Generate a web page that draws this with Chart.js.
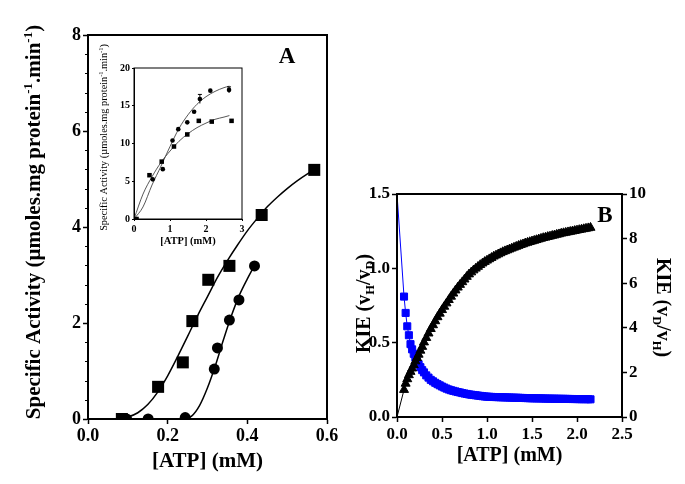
<!DOCTYPE html>
<html>
<head>
<meta charset="utf-8">
<script src="https://cdn.jsdelivr.net/npm/chart.js@4.4.0/dist/chart.umd.min.js"></script>
<style>
html, body { margin: 0; padding: 0; background: #fff; }
#wrap { position: relative; width: 685px; height: 484px; }
#chartA { position: absolute; left: 0; top: 0; }
#inset { position: absolute; left: 95px; top: 30px; }
#chartB { position: absolute; left: 345px; top: 0; }
</style>
</head>
<body>
<div id="wrap">
    <canvas id="chartA" width="345" height="484"></canvas>
    <canvas id="inset" width="160" height="225"></canvas>
    <canvas id="chartB" width="340" height="484"></canvas>
</div>
<script>
// ---- panel A, main plot
const atpSq = [0.085, 0.176, 0.238, 0.262, 0.302, 0.355, 0.436, 0.568];
const actSq = [0, 0.67, 1.18, 2.04, 2.9, 3.19, 4.25, 5.19];
const atpCi = [0.097, 0.151, 0.244, 0.317, 0.325, 0.355, 0.379, 0.418];
const actCi = [0, 0, 0.03, 1.04, 1.48, 2.06, 2.48, 3.19];

const fitSqX = [0.06, 0.08, 0.10, 0.125, 0.15, 0.175, 0.20, 0.225, 0.25, 0.275, 0.30, 0.325, 0.35, 0.375, 0.40, 0.425, 0.45, 0.475, 0.50, 0.525, 0.55, 0.57];
const fitSqY = [0, 0.01, 0.04, 0.13, 0.3, 0.56, 0.9, 1.3, 1.72, 2.15, 2.55, 2.95, 3.3, 3.62, 3.92, 4.18, 4.42, 4.62, 4.8, 4.96, 5.1, 5.2];
const fitCiX = [0.23, 0.24, 0.26, 0.28, 0.30, 0.32, 0.34, 0.36, 0.38, 0.40, 0.418];
const fitCiY = [0, 0, 0.06, 0.28, 0.65, 1.12, 1.65, 2.15, 2.58, 2.92, 3.2];

// ---- panel A, inset
const inSqX = [0.07, 0.43, 0.77, 1.11, 1.48, 1.8, 2.16, 2.71];
const inSqY = [0, 5.8, 7.6, 9.6, 11.2, 13.0, 12.9, 13.0];
const inCiX = [0.02, 0.52, 0.80, 1.07, 1.23, 1.48, 1.67, 1.83, 2.12, 2.64];
const inCiY = [0, 5.25, 6.6, 10.4, 11.9, 12.8, 14.2, 15.9, 17.0, 17.1];
const inCiErr = [0, 0, 0, 0, 0, 0, 0, 0.6, 0, 0.4];
const inFitX = [0, 0.25, 0.5, 0.75, 1.0, 1.25, 1.5, 1.75, 2.0, 2.25, 2.5, 2.65];
const inFitSq = [0, 3.3, 5.6, 7.5, 9.0, 10.3, 11.3, 12.1, 12.7, 13.2, 13.5, 13.7];
const inFitCi = [0, 1.6, 4.5, 7.0, 9.6, 12.0, 13.8, 15.2, 16.2, 16.9, 17.4, 17.6];

// ---- panel B
const kieX = [0, 0.078, 0.096, 0.114, 0.132, 0.15, 0.168, 0.186, 0.204, 0.222, 0.24, 0.26, 0.28, 0.30, 0.325, 0.35, 0.375, 0.4,
    0.425, 0.45, 0.475, 0.5, 0.525, 0.55, 0.575, 0.6, 0.625, 0.65, 0.675, 0.7, 0.725, 0.75, 0.775, 0.8, 0.825, 0.85, 0.875, 0.9,
    0.925, 0.95, 0.975, 1.0, 1.025, 1.05, 1.075, 1.1, 1.125, 1.15, 1.175, 1.2, 1.225, 1.25, 1.275, 1.3, 1.325, 1.35, 1.375, 1.4,
    1.425, 1.45, 1.475, 1.5, 1.525, 1.55, 1.575, 1.6, 1.625, 1.65, 1.675, 1.7, 1.725, 1.75, 1.775, 1.8, 1.825, 1.85, 1.875, 1.9,
    1.925, 1.95, 1.975, 2.0, 2.025, 2.05, 2.075, 2.1, 2.125, 2.15];
const kieHD = [1.5, 0.81, 0.70, 0.61, 0.55, 0.49, 0.455, 0.425, 0.40, 0.375, 0.355, 0.335, 0.315, 0.30, 0.28, 0.265, 0.25, 0.24,
    0.230, 0.221, 0.213, 0.205, 0.198, 0.191, 0.185, 0.180, 0.176, 0.172, 0.168, 0.165, 0.161, 0.158, 0.155, 0.152, 0.150, 0.148, 0.146, 0.144,
    0.142, 0.140, 0.138, 0.137, 0.136, 0.135, 0.1345, 0.134, 0.1335, 0.133, 0.1325, 0.132, 0.1315, 0.131, 0.1305, 0.130, 0.1295, 0.129, 0.1285, 0.128,
    0.1275, 0.127, 0.1265, 0.126, 0.1258, 0.1255, 0.1252, 0.125, 0.1245, 0.124, 0.1238, 0.1235, 0.1232, 0.123, 0.1228, 0.1225, 0.1222, 0.122, 0.1218, 0.1215,
    0.1212, 0.121, 0.1208, 0.1205, 0.1202, 0.12, 0.12, 0.12, 0.1195, 0.119];
const kieDH = [0, 1.22, 1.5, 1.7, 1.88, 2.03, 2.18, 2.33, 2.5, 2.65, 2.8, 2.98, 3.15, 3.35, 3.55, 3.75, 3.95, 4.12,
    4.30, 4.48, 4.64, 4.80, 4.95, 5.10, 5.25, 5.40, 5.54, 5.68, 5.81, 5.93, 6.05, 6.17, 6.29, 6.40, 6.49, 6.58, 6.66, 6.74,
    6.82, 6.89, 6.96, 7.02, 7.08, 7.14, 7.20, 7.25, 7.30, 7.35, 7.40, 7.44, 7.48, 7.52, 7.56, 7.60, 7.64, 7.68, 7.72, 7.75,
    7.79, 7.82, 7.85, 7.88, 7.91, 7.94, 7.97, 8.00, 8.03, 8.05, 8.08, 8.10, 8.13, 8.15, 8.18, 8.20, 8.23, 8.25, 8.27, 8.29,
    8.31, 8.33, 8.35, 8.37, 8.39, 8.41, 8.43, 8.45, 8.47, 8.49];

const SERIF = '"Liberation Serif", "Times New Roman", serif';

function pts(xs, ys) {
    return xs.map((x, i) => ({ x: x, y: ys[i] }));
}

// text with sub / superscript pieces, centred on (x, y)
function drawRich(ctx, parts, x, y, rot, size, weight) {
    ctx.save();
    ctx.translate(x, y);
    ctx.rotate(rot);
    let total = 0;
    const segs = parts.map(p => {
        const small = p.sub || p.sup;
        const font = weight + " " + (small ? size * 0.62 : size) + "px " + SERIF;
        ctx.font = font;
        const w = ctx.measureText(p.t).width;
        total += w;
        return { t: p.t, font: font, w: w, dy: p.sub ? size * 0.22 : (p.sup ? -size * 0.38 : 0) };
    });
    let cx = -total / 2;
    ctx.fillStyle = "#000";
    ctx.textBaseline = "alphabetic";
    segs.forEach(s => {
        ctx.font = s.font;
        ctx.fillText(s.t, cx, size * 0.34 + s.dy);
        cx += s.w;
    });
    ctx.restore();
}

const decor = {
    id: "decor",
    afterDatasetsDraw(chart, args, opts) {
        const ctx = chart.ctx;
        const a = chart.chartArea;

        if (opts.errors) {
            const e = opts.errors;
            const xs = chart.scales.x, ys = chart.scales.y;
            ctx.save();
            ctx.strokeStyle = "#000";
            ctx.lineWidth = 1;
            e.x.forEach((xv, i) => {
                if (!e.err[i]) return;
                const px = xs.getPixelForValue(xv);
                const p1 = ys.getPixelForValue(e.y[i] - e.err[i]);
                const p2 = ys.getPixelForValue(e.y[i] + e.err[i]);
                ctx.beginPath();
                ctx.moveTo(px, p1); ctx.lineTo(px, p2);
                ctx.moveTo(px - 2, p2); ctx.lineTo(px + 2, p2);
                ctx.stroke();
            });
            ctx.restore();
        }

        if (opts.minorY) {
            const ys = chart.scales.y;
            ctx.save();
            ctx.strokeStyle = "#000";
            ctx.lineWidth = 1;
            for (let v = 0; v <= ys.max + 1e-9; v += opts.minorY) {
                const py = Math.round(ys.getPixelForValue(v)) + 0.5;
                ctx.beginPath();
                ctx.moveTo(a.left, py);
                ctx.lineTo(a.left - 3, py);
                ctx.stroke();
            }
            ctx.restore();
        }

        if (opts.frame) {
            ctx.save();
            ctx.strokeStyle = "#000";
            ctx.lineWidth = opts.frame;
            ctx.strokeRect(a.left, a.top, a.right - a.left, a.bottom - a.top);
            ctx.restore();
        }

        (opts.texts || []).forEach(t => {
            drawRich(ctx, t.parts, t.x(a), t.y(a), t.rot || 0, t.size, t.weight || "bold");
        });
    }
};

Chart.register(decor);

function axis(min, max, step, digits, size, fit, extra) {
    return Object.assign({
        type: "linear",
        min: min,
        max: max,
        grid: { display: true, drawOnChartArea: false, drawTicks: true, tickLength: 5, tickWidth: 1.5, tickColor: "#000" },
        border: { display: true, color: "#000", width: 2 },
        ticks: {
            stepSize: step,
            autoSkip: false,
            maxRotation: 0,
            color: "#000",
            padding: 2,
            font: { family: SERIF, size: size, weight: "bold" },
            callback: v => Number(v).toFixed(digits)
        },
        afterFit: fit
    }, extra || {});
}

const baseOpts = {
    responsive: false,
    animation: false,
    events: [],
    plugins: { legend: { display: false }, tooltip: { enabled: false } }
};

// ---------- panel A
new Chart(document.getElementById("chartA"), {
    type: "scatter",
    data: {
        datasets: [
            { data: pts(atpSq, actSq), pointStyle: "rect", pointRadius: 8.5, backgroundColor: "#000", borderColor: "#000", borderWidth: 0 },
            { data: pts(atpCi, actCi), pointStyle: "circle", pointRadius: 5.5, backgroundColor: "#000", borderColor: "#000", borderWidth: 0 },
            { data: pts(fitSqX, fitSqY), showLine: true, pointRadius: 0, borderColor: "#000", borderWidth: 1.5, cubicInterpolationMode: "monotone" },
            { data: pts(fitCiX, fitCiY), showLine: true, pointRadius: 0, borderColor: "#000", borderWidth: 1.5, cubicInterpolationMode: "monotone" }
        ]
    },
    options: Object.assign({}, baseOpts, {
        layout: { padding: { left: 0, top: 35, right: 18, bottom: 0 } },
        scales: {
            x: axis(0, 0.6, 0.2, 1, 18, s => { s.height = 65; }),
            y: axis(0, 8, 2, 0, 18, s => { s.width = 88; })
        },
        plugins: Object.assign({}, baseOpts.plugins, {
            decor: {
                frame: 2,
                minorY: 0.4,
                texts: [
                    { parts: [{ t: "[ATP] (mM)" }], x: a => (a.left + a.right) / 2, y: a => a.bottom + 41, size: 21 },
                    { parts: [{ t: "Specific Activity (\u00b5moles.mg protein" }, { t: "-1", sup: true }, { t: ".min" }, { t: "-1", sup: true }, { t: ")" }],
                      x: a => a.left - 55, y: a => (a.top + a.bottom) / 2 - 5, rot: -Math.PI / 2, size: 21 },
                    { parts: [{ t: "A" }], x: a => a.right - 40, y: a => a.top + 20, size: 23 }
                ]
            }
        })
    })
});

// ---------- inset
new Chart(document.getElementById("inset"), {
    type: "scatter",
    data: {
        datasets: [
            { data: pts(inSqX, inSqY), pointStyle: "rect", pointRadius: 3.2, backgroundColor: "#000", borderWidth: 0 },
            { data: pts(inCiX, inCiY), pointStyle: "circle", pointRadius: 2.3, backgroundColor: "#000", borderWidth: 0 },
            { data: pts(inFitX, inFitSq), showLine: true, pointRadius: 0, borderColor: "#444", borderWidth: 0.9, cubicInterpolationMode: "monotone" },
            { data: pts(inFitX, inFitCi), showLine: true, pointRadius: 0, borderColor: "#444", borderWidth: 0.9, cubicInterpolationMode: "monotone" }
        ]
    },
    options: Object.assign({}, baseOpts, {
        layout: { padding: { left: 0, top: 38, right: 13, bottom: 0 } },
        scales: {
            x: axis(0, 3, 1, 0, 10, s => { s.height = 36; }, {
                grid: { display: true, drawOnChartArea: false, drawTicks: true, tickLength: 2, tickWidth: 1, tickColor: "#000" },
                border: { display: true, color: "#000", width: 1 }
            }),
            y: axis(0, 20, 5, 0, 10, s => { s.width = 39; }, {
                grid: { display: true, drawOnChartArea: false, drawTicks: true, tickLength: 2, tickWidth: 1, tickColor: "#000" },
                border: { display: true, color: "#000", width: 1 }
            })
        },
        plugins: Object.assign({}, baseOpts.plugins, {
            decor: {
                frame: 1,
                errors: { x: inCiX, y: inCiY, err: inCiErr },
                texts: [
                    { parts: [{ t: "[ATP] (mM)" }], x: a => (a.left + a.right) / 2, y: a => a.bottom + 21, size: 10.5 },
                    { parts: [{ t: "Specific Activity (\u00b5moles.mg protein" }, { t: "-1", sup: true }, { t: ".min" }, { t: "-1", sup: true }, { t: ")" }],
                      x: a => a.left - 31, y: a => (a.top + a.bottom) / 2 - 6, rot: -Math.PI / 2, size: 10.3, weight: "normal" }
                ]
            }
        })
    })
});

// ---------- panel B
new Chart(document.getElementById("chartB"), {
    type: "scatter",
    data: {
        datasets: [
            { data: pts(kieX, kieDH), yAxisID: "y2", showLine: true, pointStyle: "triangle",
              pointRadius: c => c.dataIndex === 0 ? 0 : 5.2, backgroundColor: "#000", borderColor: "#000", borderWidth: 1 },
            { data: pts(kieX, kieHD), yAxisID: "y", showLine: true, pointStyle: "rect",
              pointRadius: c => c.dataIndex === 0 ? 0 : 5.0, backgroundColor: "#0000ff", borderColor: "#0000ff", borderWidth: 1 }
        ]
    },
    options: Object.assign({}, baseOpts, {
        layout: { padding: { left: 0, top: 194, right: 0, bottom: 0 } },
        scales: {
            x: axis(0, 2.5, 0.5, 1, 17, s => { s.height = 67; }),
            y: axis(0, 1.5, 0.5, 1, 17, s => { s.width = 52; }),
            y2: axis(0, 10, 2, 0, 17, s => { s.width = 63; }, { position: "right" })
        },
        plugins: Object.assign({}, baseOpts.plugins, {
            decor: {
                frame: 2,
                texts: [
                    { parts: [{ t: "[ATP] (mM)" }], x: a => (a.left + a.right) / 2, y: a => a.bottom + 37, size: 20 },
                    { parts: [{ t: "KIE (v" }, { t: "H", sub: true }, { t: "/v" }, { t: "D", sub: true }, { t: ")" }],
                      x: a => a.left - 34, y: a => (a.top + a.bottom) / 2 - 2, rot: -Math.PI / 2, size: 20 },
                    { parts: [{ t: "KIE (v" }, { t: "D", sub: true }, { t: "/v" }, { t: "H", sub: true }, { t: ")" }],
                      x: a => a.right + 42, y: a => (a.top + a.bottom) / 2 + 2, rot: Math.PI / 2, size: 20 },
                    { parts: [{ t: "B" }], x: a => a.right - 17, y: a => a.top + 20, size: 23 }
                ]
            }
        })
    })
});
</script>
</body>
</html>
